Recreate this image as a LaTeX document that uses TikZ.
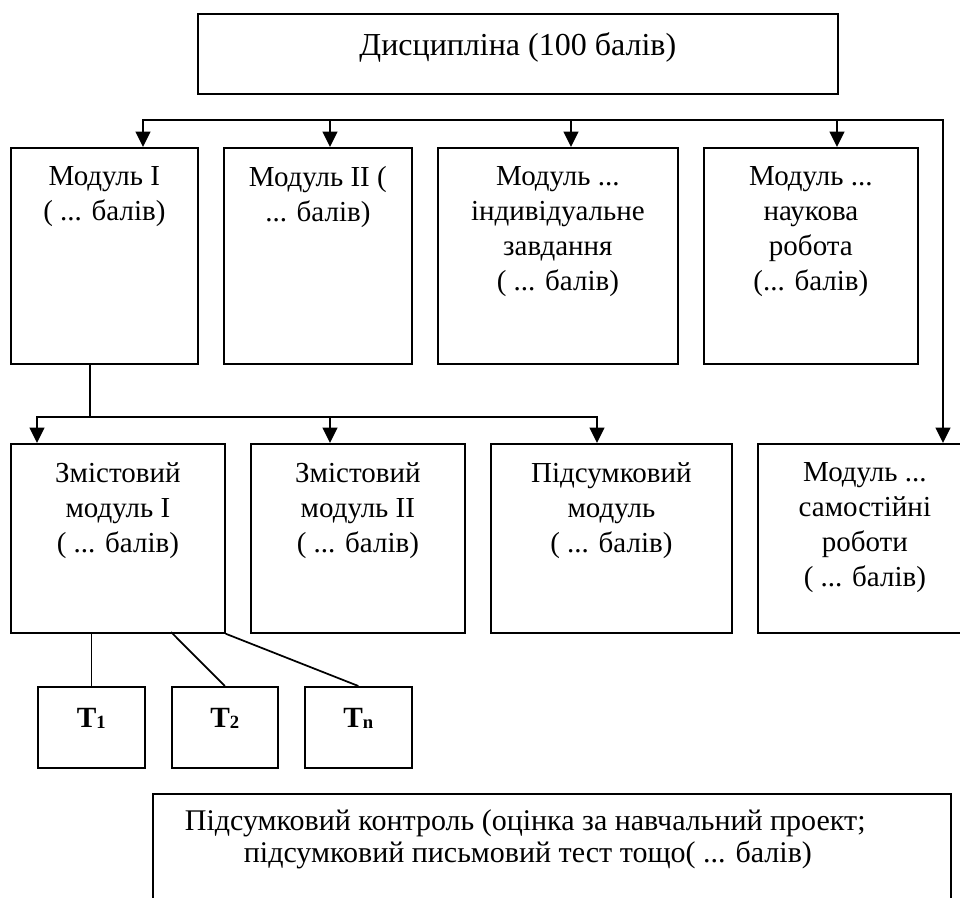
\documentclass[tikz,border=0pt]{standalone}
\usepackage{fontspec}
\setmainfont{Liberation Serif}
\usetikzlibrary{arrows.meta}
\newdimen\pxu \pxu=0.75pt
% text at the top of a box: width, height, top gap, text
\newcommand{\boxtext}[4]{\parbox[t][#2\pxu][t]{#1\pxu}{\centering\vspace*{#3\pxu}#4}}
\newcommand{\tsub}[1]{\raisebox{-1pt}{\fontsize{14}{14}\selectfont #1}}
\tikzset{
  box/.style={draw, line width=1.3pt, inner sep=0pt, anchor=north west},
  modfont/.style={font=\fontsize{21.75}{26.25}\selectfont},
  bigfont/.style={font=\fontsize{24}{24.5}\selectfont},
  ln/.style={line width=1.3pt},
  arr/.style={line width=1.3pt, -{Triangle[length=11.5pt,width=11pt]}},
  arrboth/.style={line width=1.3pt, {Triangle[length=11.5pt,width=11pt]}-{Triangle[length=11.5pt,width=11pt]}}
}
\begin{document}
\begin{tikzpicture}[x=0.75pt,y=-0.75pt]
\useasboundingbox (0,0) rectangle (960,897);
% top box
\node[box,bigfont] (disc) at (197,13) {\boxtext{640}{80}{19}{Дисципліна (100 балів)}};
% modules
\node[box,modfont] (m1) at (10,147) {\boxtext{187}{216}{19}{Модуль I\\( ... балів)}};
\node[box,modfont] (m2) at (223,147) {\boxtext{188}{216}{19}{Модуль II (\\... балів)}};
\node[box,modfont] (m3) at (437,147) {\boxtext{240}{216}{19}{Модуль ...\\індивідуальне\\завдання\\( ... балів)}};
\node[box,modfont] (m4) at (703,147) {\boxtext{214}{216}{19}{Модуль ...\\наукова\\робота\\(... балів)}};
% content modules
\node[box,modfont] (z1) at (10,443) {\boxtext{214}{189}{19}{Змістовий\\модуль I\\( ... балів)}};
\node[box,modfont] (z2) at (250,443) {\boxtext{214}{189}{19}{Змістовий\\модуль II\\( ... балів)}};
\node[box,modfont] (pm) at (490,443) {\boxtext{241}{189}{19}{Підсумковий\\модуль\\( ... балів)}};
\node[box,modfont] (sw) at (757,443) {\boxtext{214}{189}{19}{Модуль ...\\самостійні\\роботи\\( ... балів)}};
% tests
\node[box,font=\fontsize{22}{24}\selectfont\bfseries] (t1) at (37,686) {\boxtext{107}{81}{21}{T\tsub{1}}};
\node[box,font=\fontsize{22}{24}\selectfont\bfseries] (t2) at (171,686) {\boxtext{106}{81}{21}{T\tsub{2}}};
\node[box,font=\fontsize{22}{24}\selectfont\bfseries] (tn) at (304,686) {\boxtext{107}{81}{21}{T\tsub{n}}};
% final control
\node[box,font=\fontsize{22.5}{24}\selectfont] (fin) at (152,793) {\boxtext{798}{130}{16}{\raggedright
  \hspace*{32\pxu}Підсумковий контроль (оцінка за навчальний проект;\\
  \hspace*{91\pxu}підсумковий письмовий тест тощо( ... балів)}};

% upper bus
\coordinate (a1) at (143,120);
\coordinate (a2) at (330,120);
\coordinate (a3) at (571,120);
\coordinate (a4) at (837,120);
\coordinate (a5) at (943,120);
\draw[arrboth] (a1 |- m1.north) -- (a1) -- (a5) -- (a5 |- sw.north);
\foreach \a/\b in {a2/m2,a3/m3,a4/m4}
  \draw[arr] (\a) -- (\a |- \b.north);

% lower bus
\coordinate (b0) at (90,417);
\coordinate (b1) at (37,417);
\coordinate (b2) at (330,417);
\coordinate (b3) at (597,417);
\draw[ln] (b0 |- m1.south) -- (b0);
\draw[arrboth] (b1 |- z1.north) -- (b1) -- (b3) -- (b3 |- pm.north);
\draw[arr] (b2) -- (b2 |- z2.north);

% tests
\coordinate (c2) at (171,632);
\draw[ln] (t1.north |- z1.south) -- (t1.north);
\draw[ln] (c2) -- (t2.north);
\draw[ln] (z1.south east) -- (tn.north);
\end{tikzpicture}
\end{document}
